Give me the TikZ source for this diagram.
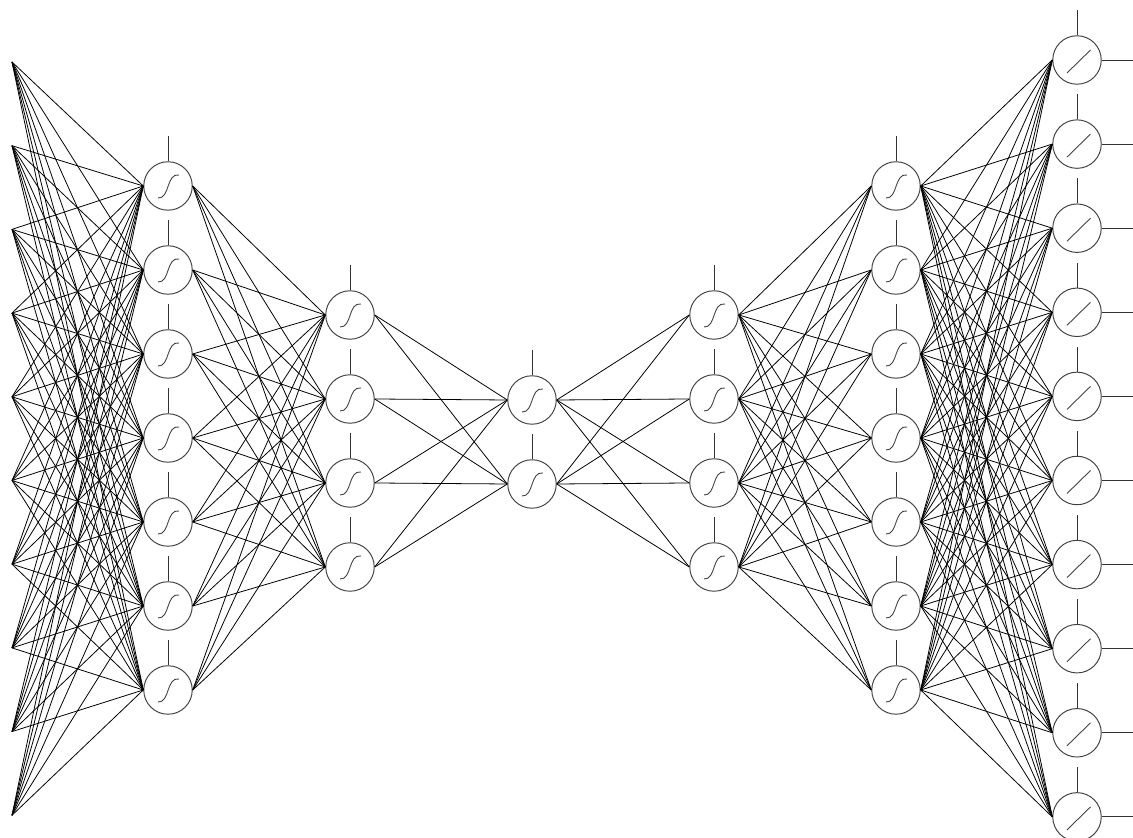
\documentclass[tikz,border=0pt]{standalone}
\begin{document}
\begin{tikzpicture}[x=0.02cm, y=0.02cm]
  \tikzset{
    neuron/.style={circle, draw=black!75, line width=0.55pt, minimum size=0.97cm, inner sep=0pt},
    sig_neuron/.style={neuron, path picture={
      \draw[black!75, line width=0.5pt, shift={(path picture bounding box.center)}]
        (-0.2cm,-0.24cm) .. controls (0.04cm,-0.26cm) and (-0.04cm,0.26cm) .. (0.22cm,0.22cm);
    }},
    lin_neuron/.style={neuron, path picture={
      \draw[black!75, line width=0.5pt, shift={(path picture bounding box.center)}]
        (-0.2cm,-0.26cm) -- (0.27cm,0.2cm);
    }},
    edge/.style={line width=0.45pt},
    bias/.style={line width=0.5pt, black!80}
  }
  \useasboundingbox (0,0) rectangle (1133,838);

  % input points
  \foreach \i in {0,...,9}
    \coordinate (in-\i) at (12, {776-83.7*\i});

  % hidden layers
  \foreach \j in {0,...,6} {
    \node[sig_neuron] (h1-\j) at (168, {652-84*\j}) {};
    \node[sig_neuron] (h5-\j) at (896, {652-84*\j}) {};
  }
  \foreach \j in {0,...,3} {
    \node[sig_neuron] (h2-\j) at (350, {523-84*\j}) {};
    \node[sig_neuron] (h4-\j) at (714, {523-84*\j}) {};
  }
  \foreach \j in {0,1}
    \node[sig_neuron] (h3-\j) at (532, {438-84*\j}) {};

  % output layer
  \foreach \k in {0,...,9} {
    \node[lin_neuron] (out-\k) at (1077, {778-84.1*\k}) {};
    \coordinate (y-\k) at (1133, {778-84.1*\k});
    \draw[bias] (out-\k.east) -- (y-\k);
  }

  % bias ticks
  \foreach \n in {h1-0,h1-1,h1-2,h1-3,h1-4,h1-5,h1-6,
                  h2-0,h2-1,h2-2,h2-3,h3-0,h3-1,h4-0,h4-1,h4-2,h4-3,
                  h5-0,h5-1,h5-2,h5-3,h5-4,h5-5,h5-6,
                  out-0,out-1,out-2,out-3,out-4,out-5,out-6,out-7,out-8,out-9}
    \draw[bias] (\n.north) -- ++(0,25);

  % weights
  \foreach \i in {0,...,9}
    \foreach \j in {0,...,6}
      \draw[edge] (in-\i) -- (h1-\j.west);
  \foreach \i in {0,...,6}
    \foreach \j in {0,...,3}
      \draw[edge] (h1-\i.east) -- (h2-\j.west);
  \foreach \i in {0,...,3}
    \foreach \j in {0,1}
      \draw[edge] (h2-\i.east) -- (h3-\j.west);
  \foreach \i in {0,1}
    \foreach \j in {0,...,3}
      \draw[edge] (h3-\i.east) -- (h4-\j.west);
  \foreach \i in {0,...,3}
    \foreach \j in {0,...,6}
      \draw[edge] (h4-\i.east) -- (h5-\j.west);
  \foreach \i in {0,...,6}
    \foreach \j in {0,...,9}
      \draw[edge] (h5-\i.east) -- (out-\j.west);
\end{tikzpicture}
\end{document}
